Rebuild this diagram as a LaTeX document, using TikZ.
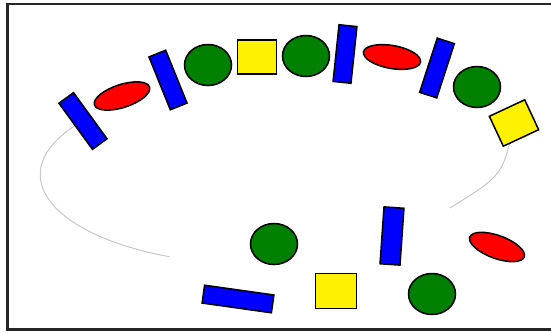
\documentclass[tikz,border=0pt]{standalone}
\usepackage{xcolor}
\usepackage{tikz}
\usetikzlibrary{shapes.geometric,backgrounds}

\begin{document}
\begin{tikzpicture}[
  x=1pt, y=-1pt,
  slab/.style={draw, fill=blue, line width=1.5pt, inner sep=0pt, minimum width=18pt, minimum height=57pt},
  oval/.style={ellipse, draw, fill=red, line width=1.5pt, inner sep=0pt, minimum width=58pt, minimum height=23pt},
  disc/.style={ellipse, draw, fill=green!50!black, line width=1.5pt, inner sep=0pt, minimum width=47pt, minimum height=41pt},
  sqbox/.style={draw, fill=yellow, line width=1.5pt, inner sep=0pt, minimum width=39pt, minimum height=34pt},
  track/.style={draw=black!22, line width=1pt}
]
\useasboundingbox (0,0) rectangle (551,333);
\draw[line width=2.2pt, black!85] (560,4) -- (7.5,4) -- (7.5,329.5) -- (560,329.5);

% shapes along the arc
\node[slab, rotate=36] (b1) at (83,121) {};
\node[oval, rotate=18] (e1) at (122,96) {};
\node[slab, rotate=22] (b2) at (168,80) {};
\node[disc] (c1) at (208,65) {};
\node[sqbox] (s1) at (257,57) {};
\node[disc] (c2) at (306,56) {};
\node[slab, rotate=-6] (b3) at (345,54) {};
\node[oval, rotate=-10] (e2) at (392,57) {};
\node[slab, rotate=-18] (b4) at (437,68) {};
\node[disc] (c3) at (477,87) {};
\node[sqbox, rotate=25, minimum height=33pt] (s2) at (514,123) {};

% loose shapes
\node[disc] (c4) at (274,244) {};
\node[slab, rotate=82, minimum height=70pt] (b5) at (238,299) {};
\node[sqbox, minimum width=41pt, minimum height=35pt] (s3) at (336,291) {};
\node[slab, rotate=-4, minimum width=20pt, minimum height=57pt] (b6) at (392,236) {};
\node[disc] (c5) at (432,294) {};
\node[oval, rotate=-20] (e3) at (497,247) {};

\coordinate (rightend) at (450,208);

\begin{scope}[on background layer]
\draw[track] (b1.center) arc[start angle=216.5, end angle=114, x radius=218, y radius=90];
\draw[track] (s2.center) .. controls (503,175) .. (rightend);
\end{scope}
\end{tikzpicture}
\end{document}
